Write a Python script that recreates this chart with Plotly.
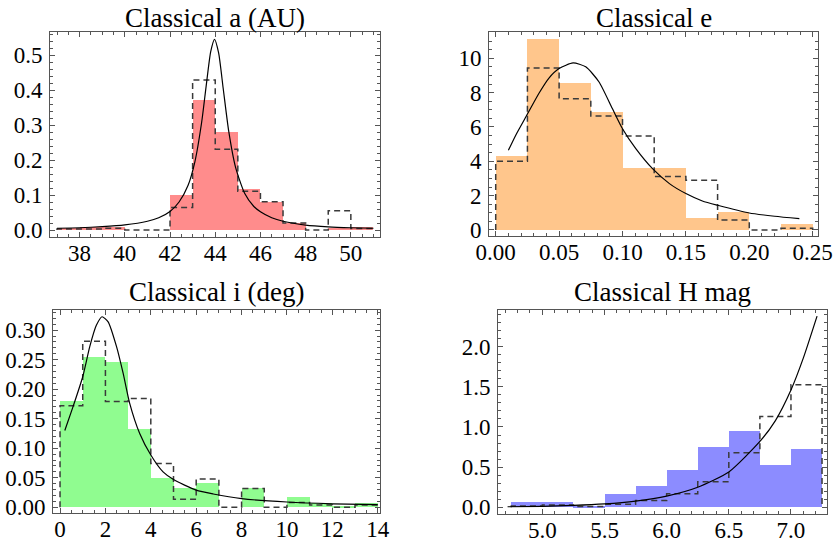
import plotly.graph_objects as go

# ---------------- data ----------------
# Panel a (AU): bins of width 1 from 37 to 51
a_edges = [37, 38, 39, 40, 41, 42, 43, 44, 45, 46, 47, 48, 49, 50, 51]
a_fill = [0.007, 0.008, 0.010, 0.0, 0.0, 0.100, 0.371, 0.281, 0.116, 0.081, 0.021, 0.0, 0.004, 0.008]
a_dash = [0.003, 0.003, 0.005, 0.0, 0.0, 0.064, 0.429, 0.231, 0.111, 0.081, 0.020, 0.0, 0.055, 0.004]
a_curve_x = [37, 38, 39, 40, 41, 41.5, 42, 42.4, 42.8, 43.1, 43.4, 43.6, 43.8, 43.97,
             44.15, 44.35, 44.6, 44.9, 45.3, 45.7, 46, 46.5, 47, 48, 49, 50, 51]
a_curve_y = [0.005, 0.0065, 0.0095, 0.0145, 0.025, 0.035, 0.053, 0.080, 0.128, 0.195, 0.308,
             0.412, 0.510, 0.545, 0.506, 0.406, 0.281, 0.179, 0.105, 0.068, 0.052, 0.035,
             0.025, 0.014, 0.009, 0.0065, 0.005]

# Panel e: bins of width 0.025 from 0 to 0.25
e_edges = [0.0, 0.025, 0.05, 0.075, 0.1, 0.125, 0.15, 0.175, 0.2, 0.225, 0.25]
e_fill = [4.31, 11.13, 8.54, 6.89, 3.63, 3.63, 0.68, 1.03, 0.0, 0.35]
e_dash = [4.00, 9.44, 7.65, 6.64, 5.48, 3.11, 2.89, 0.58, 0.0, 0.10]
e_curve_x = [0.010, 0.016, 0.025, 0.034, 0.042, 0.050, 0.061, 0.071, 0.0815, 0.092, 0.100,
             0.1105, 0.1237, 0.137, 0.150, 0.163, 0.175, 0.200, 0.220, 0.2395]
e_curve_y = [4.64, 5.55, 6.75, 7.95, 8.85, 9.40, 9.73, 9.50, 8.62, 7.07, 5.90,
             4.74, 3.57, 2.70, 2.12, 1.69, 1.44, 0.99, 0.80, 0.66]

# Panel i (deg): bins of width 1 from 0 to 14
i_edges = [0, 1, 2, 3, 4, 5, 6, 7, 8, 9, 10, 11, 12, 13, 14]
i_fill = [0.180, 0.254, 0.246, 0.132, 0.050, 0.033, 0.041, 0.0, 0.032, 0.0, 0.017, 0.008, 0.002, 0.008]
i_dash = [0.172, 0.281, 0.179, 0.184, 0.074, 0.0135, 0.048, 0.0, 0.032, 0.0, 0.008, 0.004, 0.0, 0.004]
i_curve_x = [0.21, 0.57, 1.0, 1.31, 1.6, 1.85, 2.12, 2.49, 2.78, 3.07, 3.51, 4.0, 4.54, 5.0,
             6.0, 6.75, 8.0, 10.0, 12.0, 14.0]
i_curve_y = [0.130, 0.170, 0.221, 0.272, 0.308, 0.3226, 0.314, 0.272, 0.227, 0.176, 0.125,
             0.0886, 0.060, 0.047, 0.029, 0.0226, 0.0147, 0.009, 0.006, 0.0045]

# Panel H mag: bins of width 0.25 from 4.75 to 7.25
h_edges = [4.75, 5.0, 5.25, 5.5, 5.75, 6.0, 6.25, 6.5, 6.75, 7.0, 7.25]
h_fill = [0.062, 0.062, 0.020, 0.166, 0.266, 0.465, 0.755, 0.954, 0.527, 0.722]
h_dash = [0.017, 0.030, 0.010, 0.037, 0.085, 0.170, 0.317, 0.680, 1.129, 1.527]
h_curve_x = [4.72, 5.0, 5.25, 5.5, 5.75, 6.0, 6.25, 6.5, 6.75, 6.875, 7.0, 7.1, 7.21]
h_curve_y = [0.007, 0.013, 0.024, 0.043, 0.078, 0.14, 0.25, 0.44, 0.82, 1.08, 1.46, 1.86, 2.38]

titles = ["Classical a (AU)", "Classical e", "Classical i (deg)", "Classical H mag"]

# ---------------- styling ----------------
W, H = 834, 544
FONT = "Liberation Serif, Times New Roman, DejaVu Serif, serif"
FRAME = "#555555"
DASH_COL = "#3a3a3a"
TICK_SIZE = 23
TITLE_SIZE = 27

panels = [
    dict(edges=a_edges, fill=a_fill, dash=a_dash, cx=a_curve_x, cy=a_curve_y,
         color="rgb(255,140,140)", box=(50, 380, 32, 237), toff=14,
         xr=[36.69, 51.29], yr=[-0.02, 0.566],
         xt=dict(tick0=38, dtick=2, fmt="d", minor=0.5),
         yt=dict(tick0=0, dtick=0.1, fmt=".1f", minor=0.02)),
    dict(edges=e_edges, fill=e_fill, dash=e_dash, cx=e_curve_x, cy=e_curve_y,
         color="rgb(255,198,140)", box=(489, 818, 32, 236), toff=14,
         xr=[-0.0053, 0.2542], yr=[-0.35, 11.53],
         xt=dict(tick0=0, dtick=0.05, fmt=".2f", minor=0.01),
         yt=dict(tick0=0, dtick=2, fmt="d", minor=0.5)),
    dict(edges=i_edges, fill=i_fill, dash=i_dash, cx=i_curve_x, cy=i_curve_y,
         color="rgb(144,252,144)", box=(53, 380, 310, 513), toff=18,
         xr=[-0.31, 14.1], yr=[-0.0096, 0.334],
         xt=dict(tick0=0, dtick=2, fmt="d", minor=0.5),
         yt=dict(tick0=0, dtick=0.05, fmt=".2f", minor=0.01)),
    dict(edges=h_edges, fill=h_fill, dash=h_dash, cx=h_curve_x, cy=h_curve_y,
         color="rgb(140,140,255)", box=(498, 827, 310, 514), toff=18,
         xr=[4.643, 7.29], yr=[-0.083, 2.456],
         xt=dict(tick0=5, dtick=0.5, fmt=".1f", minor=0.1),
         yt=dict(tick0=0, dtick=0.5, fmt=".1f", minor=0.1)),
]

fig = go.Figure()
layout = dict(
    width=W, height=H, margin=dict(l=0, r=0, t=0, b=0, autoexpand=False),
    paper_bgcolor="white", plot_bgcolor="white", showlegend=False,
    font=dict(family=FONT, size=TICK_SIZE, color="black"),
)
annotations = []

for k, p in enumerate(panels):
    n = k + 1
    xa = "x" if n == 1 else f"x{n}"
    ya = "y" if n == 1 else f"y{n}"
    edges = p["edges"]
    centers = [(edges[j] + edges[j + 1]) / 2 for j in range(len(edges) - 1)]
    widths = [edges[j + 1] - edges[j] for j in range(len(edges) - 1)]

    fig.add_trace(go.Bar(x=centers, y=p["fill"], width=widths, xaxis=xa, yaxis=ya,
                         marker=dict(color=p["color"], line=dict(width=0))))

    # dashed step outline
    sx = [edges[0]] + edges[:-1] + [edges[-1], edges[-1]]
    sy = [0] + p["dash"] + [p["dash"][-1], 0]
    fig.add_trace(go.Scatter(x=sx, y=sy, mode="lines", xaxis=xa, yaxis=ya,
                             line=dict(color=DASH_COL, width=1.5, dash="6px,4px", shape="hv")))

    fig.add_trace(go.Scatter(x=p["cx"], y=p["cy"], mode="lines", xaxis=xa, yaxis=ya,
                             line=dict(color="black", width=1.2, shape="spline", smoothing=0.6)))

    x0, x1, yt_, yb_ = p["box"]
    xdom = [x0 / W, x1 / W]
    ydom = [1 - yb_ / H, 1 - yt_ / H]
    common = dict(showline=True, linecolor=FRAME, linewidth=1, mirror="allticks",
                  ticks="inside", ticklen=5, tickwidth=1, tickcolor=FRAME,
                  showgrid=False, zeroline=False, automargin=False,
                  tickfont=dict(family=FONT, size=TICK_SIZE, color="black"))
    xkey = "xaxis" if n == 1 else f"xaxis{n}"
    ykey = "yaxis" if n == 1 else f"yaxis{n}"
    layout[xkey] = dict(domain=xdom, range=p["xr"], anchor=ya, tickmode="linear",
                        tick0=p["xt"]["tick0"], dtick=p["xt"]["dtick"],
                        tickformat=p["xt"]["fmt"], ticklabelstandoff=-5,
                        minor=dict(dtick=p["xt"]["minor"], ticks="inside", ticklen=3,
                                   tickcolor=FRAME, showgrid=False),
                        **common)
    layout[ykey] = dict(domain=ydom, range=p["yr"], anchor=xa, tickmode="linear",
                        tick0=p["yt"]["tick0"], dtick=p["yt"]["dtick"],
                        tickformat=p["yt"]["fmt"], ticklabelstandoff=2,
                        minor=dict(dtick=p["yt"]["minor"], ticks="inside", ticklen=3,
                                   tickcolor=FRAME, showgrid=False),
                        **common)
    annotations.append(dict(text=titles[k], xref="paper", yref="paper",
                            x=(x0 + x1) / 2 / W, y=1 - (yt_ - p["toff"]) / H,
                            xanchor="center", yanchor="middle", showarrow=False,
                            font=dict(family=FONT, size=TITLE_SIZE, color="black")))

layout["annotations"] = annotations
layout["bargap"] = 0
fig.update_layout(**layout)
fig.write_html("out.html", config={"displayModeBar": False},
               post_script="document.body.style.margin='0';document.body.style.padding='0';")
